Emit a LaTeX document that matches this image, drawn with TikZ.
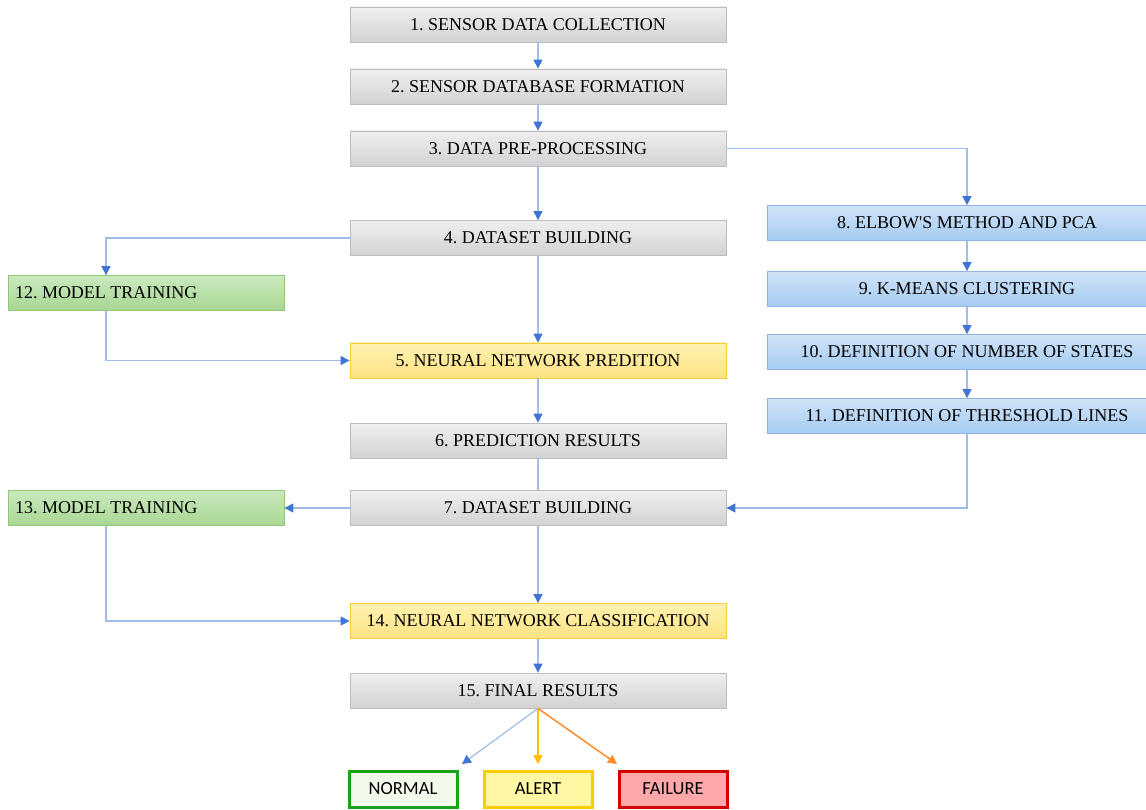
\documentclass[tikz,border=0pt]{standalone}
\usepackage{fontspec}
\setmainfont{Liberation Serif}
\newfontfamily\calib{Carlito}
\usetikzlibrary{arrows.meta}
\definecolor{gtop}{HTML}{EFEFEF}
\definecolor{gbot}{HTML}{D2D2D2}
\definecolor{gbord}{HTML}{BDBDBD}
\definecolor{btop}{HTML}{CFE3F8}
\definecolor{bbot}{HTML}{A6CBF2}
\definecolor{bbord}{HTML}{8DB6E6}
\definecolor{grtop}{HTML}{CBE9BE}
\definecolor{grbot}{HTML}{A8D693}
\definecolor{grbord}{HTML}{8FC878}
\definecolor{ytop}{HTML}{FFF2B0}
\definecolor{ybot}{HTML}{FDE283}
\definecolor{ybord}{HTML}{F4CC3A}
\definecolor{lineblue}{HTML}{9FBDEB}
\definecolor{tipblue}{HTML}{3F74D2}
\definecolor{okgreen}{HTML}{18A318}
\definecolor{okfill}{HTML}{F3FAEC}
\definecolor{alborder}{HTML}{FFCC00}
\definecolor{alfill}{HTML}{FFF7A3}
\definecolor{fborder}{HTML}{D40000}
\definecolor{ffill}{HTML}{FFA8AA}
\definecolor{yarrow}{HTML}{FFC000}
\definecolor{oarrow}{HTML}{FF8A2A}
\newcommand{\lefttext}[1]{\makebox[262pt][l]{#1}}
\tikzset{
  boxbase/.style={minimum height=35pt, inner sep=0pt, line width=0.8pt, text=black, font=\rmfamily\frenchspacing\fontsize{18}{20}\selectfont},
  gbox/.style={boxbase, draw=gbord, top color=gtop, bottom color=gbot, minimum width=376pt},
  ybox/.style={boxbase, draw=ybord, top color=ytop, bottom color=ybot, minimum width=376pt},
  bbox/.style={boxbase, draw=bbord, top color=btop, bottom color=bbot, minimum width=400pt},
  grbox/.style={boxbase, draw=grbord, top color=grtop, bottom color=grbot, minimum width=276pt},
  outbox/.style={minimum width=108pt, minimum height=36pt, inner sep=0pt, line width=3pt, text=black, font=\calib\fontsize{18.5}{20}\selectfont},
  conn/.style={draw=lineblue, line width=1.2pt, -{Triangle[length=9pt,width=9pt,color=tipblue]}},
  plainline/.style={draw=lineblue, line width=1.2pt},
}
\begin{document}
\begin{tikzpicture}[x=1pt,y=-1pt]
\useasboundingbox (0,0) rectangle (1146,810);
\clip (0,0) rectangle (1146,810);
\fill[white] (0,0) rectangle (1146,810);
% main column
\node[gbox] (n1) at (538,24.5) {1. SENSOR DATA COLLECTION};
\node[gbox] (n2) at (538,86.5) {2. SENSOR DATABASE FORMATION};
\node[gbox] (n3) at (538,148.5) {3. DATA PRE-PROCESSING};
\node[gbox] (n4) at (538,238) {4. DATASET BUILDING};
\node[ybox] (n5) at (538,360.5) {5. NEURAL NETWORK PREDITION};
\node[gbox] (n6) at (538,440.5) {6. PREDICTION RESULTS};
\node[gbox] (n7) at (538,508) {7. DATASET BUILDING};
\node[ybox] (n14) at (538,621) {14. NEURAL NETWORK CLASSIFICATION};
\node[gbox] (n15) at (538,690.5) {15. FINAL RESULTS};
% green
\node[grbox] (g12) at (146,293) {\lefttext{12. MODEL TRAINING}};
\node[grbox] (g13) at (146,508) {\lefttext{13. MODEL TRAINING}};
% blue
\node[bbox] (b8) at (967,223) {8. ELBOW\textquotesingle S METHOD AND PCA};
\node[bbox] (b9) at (967,289) {9. K-MEANS CLUSTERING};
\node[bbox] (b10) at (967,352) {10. DEFINITION OF NUMBER OF STATES};
\node[bbox] (b11) at (967,416) {11. DEFINITION OF THRESHOLD LINES};
% outcomes
\node[outbox, draw=okgreen, fill=okfill] (on) at (403,789) {NORMAL};
\node[outbox, draw=alborder, fill=alfill] (oa) at (538,789) {ALERT};
\node[outbox, draw=fborder, fill=ffill] (of) at (673,789) {FAILURE};
\coordinate (tn) at (462,764);
\coordinate (ta) at (538,764);
\coordinate (tf) at (617,764);
% connectors
\draw[conn] (n1) -- (n2);
\draw[conn] (n2) -- (n3);
\draw[conn] (n3) -- (n4);
\draw[conn] (n3.east) -| (b8.north);
\draw[conn] (b8) -- (b9);
\draw[conn] (b9) -- (b10);
\draw[conn] (b10) -- (b11);
\draw[conn] (n4.west) -| ([xshift=-40pt]g12.north);
\draw[conn] ([xshift=-40pt]g12.south) |- (n5.west);
\draw[conn] (n4) -- (n5);
\draw[conn] (n5) -- (n6);
\draw[plainline] (n6) -- (n7);
\draw[conn] (n7.west) -- (g13.east);
\draw[conn] (b11.south) |- (n7.east);
\draw[conn] ([xshift=-40pt]g13.south) |- (n14.west);
\draw[conn] (n7) -- (n14);
\draw[conn] (n14) -- (n15);
\draw[conn] (n15.south) -- (tn);
\draw[draw=yarrow, line width=1.5pt, -{Triangle[length=9pt,width=9pt,color=yarrow]}] (n15.south) -- (ta);
\draw[draw=oarrow, line width=1.5pt, -{Triangle[length=9pt,width=9pt,color=oarrow]}] (n15.south) -- (tf);
\end{tikzpicture}
\end{document}
